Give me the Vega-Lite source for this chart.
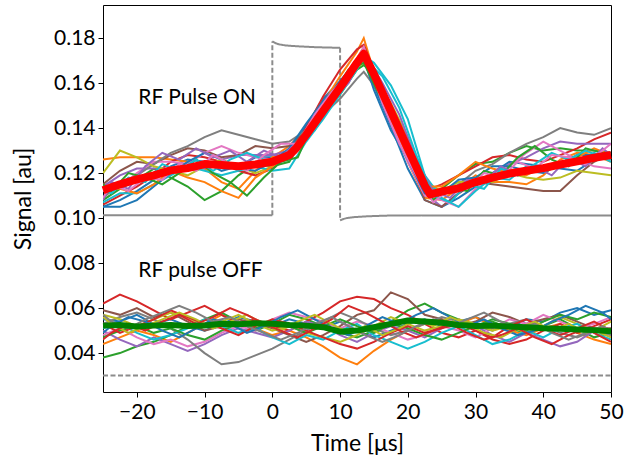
{
"$schema":"https://vega.github.io/schema/vega-lite/v6.json",
"width":508,"height":387,
"autosize":{"type":"none"},
"padding":{"left":103,"top":5,"right":21,"bottom":68},
"background":"white",
"config":{"view":{"stroke":"#000","strokeWidth":1},"font":"Lato",
"axis":{"grid":false,"domain":false,"tickColor":"#000","tickSize":5,"labelColor":"#000","labelFontSize":21,"titleFontSize":23,"titleFontWeight":"normal","titleColor":"#000","labelFont":"Lato","titleFont":"Lato"}},
"datasets":{
"pulse":[
{"seg":"b1","style":"solid","t":-25,"v":0.1013},{"seg":"b1","style":"solid","t":0,"v":0.1013},
{"seg":"up","style":"dashed","t":0,"v":0.1013},{"seg":"up","style":"dashed","t":0,"v":0.1785},
{"seg":"top","style":"solid","t":0,"v":0.1785},{"seg":"top","style":"solid","t":0.5,"v":0.1777},{"seg":"top","style":"solid","t":1,"v":0.1772},{"seg":"top","style":"solid","t":2,"v":0.1767},{"seg":"top","style":"solid","t":4,"v":0.1763},{"seg":"top","style":"solid","t":6,"v":0.176},{"seg":"top","style":"solid","t":8,"v":0.1758},{"seg":"top","style":"solid","t":10,"v":0.1757},
{"seg":"down","style":"dashed","t":10,"v":0.1757},{"seg":"down","style":"dashed","t":10,"v":0.099},
{"seg":"b2","style":"solid","t":10,"v":0.099},{"seg":"b2","style":"solid","t":10.5,"v":0.0996},{"seg":"b2","style":"solid","t":11,"v":0.1},{"seg":"b2","style":"solid","t":12,"v":0.1004},{"seg":"b2","style":"solid","t":14,"v":0.1008},{"seg":"b2","style":"solid","t":17,"v":0.1011},{"seg":"b2","style":"solid","t":22,"v":0.1012},{"seg":"b2","style":"solid","t":50,"v":0.1012},
{"seg":"off","style":"dashed","t":-25,"v":0.03},{"seg":"off","style":"dashed","t":50,"v":0.03}
],
"onmean":[
{"t":-25,"v":0.1124},{"t":-22.5,"v":0.115},{"t":-20,"v":0.1172},{"t":-17.5,"v":0.119},{"t":-15,"v":0.1212},{"t":-12.5,"v":0.1222},{"t":-10,"v":0.124},{"t":-7.5,"v":0.1236},{"t":-5,"v":0.123},{"t":-2.5,"v":0.1238},{"t":0,"v":0.125},{"t":2.5,"v":0.128},{"t":3.5,"v":0.131},{"t":5,"v":0.137},{"t":7.5,"v":0.1475},{"t":10,"v":0.158},{"t":12.5,"v":0.169},{"t":13.5,"v":0.173},{"t":15,"v":0.164},{"t":17.5,"v":0.1475},{"t":20,"v":0.131},{"t":22.5,"v":0.1145},{"t":23.3,"v":0.1105},{"t":25,"v":0.1118},{"t":27.5,"v":0.1132},{"t":30,"v":0.116},{"t":32.5,"v":0.118},{"t":35,"v":0.1198},{"t":37.5,"v":0.121},{"t":40,"v":0.1222},{"t":42.5,"v":0.1238},{"t":45,"v":0.1252},{"t":47.5,"v":0.1268},{"t":50,"v":0.128}
],
"offmean":[
{"t":-25,"v":0.0522},{"t":-22.5,"v":0.0525},{"t":-20,"v":0.0518},{"t":-17.5,"v":0.0522},{"t":-15,"v":0.0525},{"t":-12.5,"v":0.052},{"t":-10,"v":0.0523},{"t":-7.5,"v":0.053},{"t":-5,"v":0.0528},{"t":-2.5,"v":0.0533},{"t":0,"v":0.053},{"t":2.5,"v":0.0525},{"t":5,"v":0.0522},{"t":7.5,"v":0.0515},{"t":10,"v":0.0495},{"t":12.5,"v":0.05},{"t":15,"v":0.0515},{"t":17.5,"v":0.053},{"t":20,"v":0.0545},{"t":22.5,"v":0.054},{"t":25,"v":0.0535},{"t":27.5,"v":0.0525},{"t":30,"v":0.052},{"t":32.5,"v":0.0522},{"t":35,"v":0.0518},{"t":37.5,"v":0.0515},{"t":40,"v":0.051},{"t":42.5,"v":0.0508},{"t":45,"v":0.0505},{"t":47.5,"v":0.0502},{"t":50,"v":0.0497}
],
"labels":[{"t":-19.8,"v":0.1535,"label":"RF Pulse ON"},{"t":-19.8,"v":0.0765,"label":"RF pulse OFF"}],
"traces":[
{"s":"n1","t":-25,"v":0.105},{"s":"n1","t":-22.5,"v":0.108},{"s":"n1","t":-20,"v":0.112},{"s":"n1","t":-17.5,"v":0.117},{"s":"n1","t":-15,"v":0.123},{"s":"n1","t":-12.5,"v":0.126},{"s":"n1","t":-10,"v":0.125},{"s":"n1","t":-7.5,"v":0.121},{"s":"n1","t":-5,"v":0.123},{"s":"n1","t":-2.5,"v":0.127},{"s":"n1","t":0,"v":0.127},{"s":"n1","t":2.5,"v":0.129},{"s":"n1","t":5,"v":0.141},{"s":"n1","t":7.5,"v":0.153},{"s":"n1","t":10,"v":0.161},{"s":"n1","t":12.5,"v":0.17},{"s":"n1","t":13.5,"v":0.173},{"s":"n1","t":15,"v":0.159},{"s":"n1","t":17.5,"v":0.141},{"s":"n1","t":20,"v":0.122},{"s":"n1","t":22.5,"v":0.108},{"s":"n1","t":25,"v":0.105},{"s":"n1","t":27.5,"v":0.109},{"s":"n1","t":30,"v":0.114},{"s":"n1","t":32.5,"v":0.12},{"s":"n1","t":35,"v":0.125},{"s":"n1","t":37.5,"v":0.124},{"s":"n1","t":40,"v":0.123},{"s":"n1","t":42.5,"v":0.122},{"s":"n1","t":45,"v":0.121},{"s":"n1","t":47.5,"v":0.126},{"s":"n1","t":50,"v":0.128},
{"s":"n2","t":-25,"v":0.126},{"s":"n2","t":-22.5,"v":0.127},{"s":"n2","t":-20,"v":0.127},{"s":"n2","t":-17.5,"v":0.127},{"s":"n2","t":-15,"v":0.126},{"s":"n2","t":-12.5,"v":0.125},{"s":"n2","t":-10,"v":0.122},{"s":"n2","t":-7.5,"v":0.116},{"s":"n2","t":-5,"v":0.113},{"s":"n2","t":-2.5,"v":0.121},{"s":"n2","t":0,"v":0.127},{"s":"n2","t":2.5,"v":0.132},{"s":"n2","t":5,"v":0.139},{"s":"n2","t":7.5,"v":0.151},{"s":"n2","t":10,"v":0.163},{"s":"n2","t":12.5,"v":0.174},{"s":"n2","t":13.5,"v":0.18},{"s":"n2","t":15,"v":0.165},{"s":"n2","t":17.5,"v":0.145},{"s":"n2","t":20,"v":0.125},{"s":"n2","t":22.5,"v":0.109},{"s":"n2","t":25,"v":0.108},{"s":"n2","t":27.5,"v":0.113},{"s":"n2","t":30,"v":0.119},{"s":"n2","t":32.5,"v":0.116},{"s":"n2","t":35,"v":0.116},{"s":"n2","t":37.5,"v":0.115},{"s":"n2","t":40,"v":0.119},{"s":"n2","t":42.5,"v":0.126},{"s":"n2","t":45,"v":0.129},{"s":"n2","t":47.5,"v":0.128},{"s":"n2","t":50,"v":0.125},
{"s":"n3","t":-25,"v":0.108},{"s":"n3","t":-22.5,"v":0.113},{"s":"n3","t":-20,"v":0.117},{"s":"n3","t":-17.5,"v":0.122},{"s":"n3","t":-15,"v":0.118},{"s":"n3","t":-12.5,"v":0.114},{"s":"n3","t":-10,"v":0.108},{"s":"n3","t":-7.5,"v":0.112},{"s":"n3","t":-5,"v":0.119},{"s":"n3","t":-2.5,"v":0.124},{"s":"n3","t":0,"v":0.123},{"s":"n3","t":2.5,"v":0.125},{"s":"n3","t":5,"v":0.138},{"s":"n3","t":7.5,"v":0.146},{"s":"n3","t":10,"v":0.155},{"s":"n3","t":12.5,"v":0.166},{"s":"n3","t":13.5,"v":0.168},{"s":"n3","t":15,"v":0.164},{"s":"n3","t":17.5,"v":0.15},{"s":"n3","t":20,"v":0.128},{"s":"n3","t":22.5,"v":0.11},{"s":"n3","t":25,"v":0.113},{"s":"n3","t":27.5,"v":0.119},{"s":"n3","t":30,"v":0.124},{"s":"n3","t":32.5,"v":0.125},{"s":"n3","t":35,"v":0.129},{"s":"n3","t":37.5,"v":0.132},{"s":"n3","t":40,"v":0.13},{"s":"n3","t":42.5,"v":0.131},{"s":"n3","t":45,"v":0.13},{"s":"n3","t":47.5,"v":0.13},{"s":"n3","t":50,"v":0.129},
{"s":"n4","t":-25,"v":0.106},{"s":"n4","t":-22.5,"v":0.11},{"s":"n4","t":-20,"v":0.114},{"s":"n4","t":-17.5,"v":0.119},{"s":"n4","t":-15,"v":0.125},{"s":"n4","t":-12.5,"v":0.128},{"s":"n4","t":-10,"v":0.127},{"s":"n4","t":-7.5,"v":0.125},{"s":"n4","t":-5,"v":0.121},{"s":"n4","t":-2.5,"v":0.119},{"s":"n4","t":0,"v":0.122},{"s":"n4","t":2.5,"v":0.128},{"s":"n4","t":5,"v":0.14},{"s":"n4","t":7.5,"v":0.154},{"s":"n4","t":10,"v":0.166},{"s":"n4","t":12.5,"v":0.175},{"s":"n4","t":13.5,"v":0.177},{"s":"n4","t":15,"v":0.166},{"s":"n4","t":17.5,"v":0.148},{"s":"n4","t":20,"v":0.127},{"s":"n4","t":22.5,"v":0.112},{"s":"n4","t":25,"v":0.115},{"s":"n4","t":27.5,"v":0.119},{"s":"n4","t":30,"v":0.123},{"s":"n4","t":32.5,"v":0.127},{"s":"n4","t":35,"v":0.128},{"s":"n4","t":37.5,"v":0.126},{"s":"n4","t":40,"v":0.125},{"s":"n4","t":42.5,"v":0.128},{"s":"n4","t":45,"v":0.131},{"s":"n4","t":47.5,"v":0.135},{"s":"n4","t":50,"v":0.138},
{"s":"n5","t":-25,"v":0.114},{"s":"n5","t":-22.5,"v":0.119},{"s":"n5","t":-20,"v":0.122},{"s":"n5","t":-17.5,"v":0.122},{"s":"n5","t":-15,"v":0.122},{"s":"n5","t":-12.5,"v":0.122},{"s":"n5","t":-10,"v":0.122},{"s":"n5","t":-7.5,"v":0.126},{"s":"n5","t":-5,"v":0.128},{"s":"n5","t":-2.5,"v":0.128},{"s":"n5","t":0,"v":0.128},{"s":"n5","t":2.5,"v":0.13},{"s":"n5","t":5,"v":0.137},{"s":"n5","t":7.5,"v":0.149},{"s":"n5","t":10,"v":0.158},{"s":"n5","t":12.5,"v":0.167},{"s":"n5","t":13.5,"v":0.171},{"s":"n5","t":15,"v":0.163},{"s":"n5","t":17.5,"v":0.149},{"s":"n5","t":20,"v":0.134},{"s":"n5","t":22.5,"v":0.111},{"s":"n5","t":25,"v":0.105},{"s":"n5","t":27.5,"v":0.111},{"s":"n5","t":30,"v":0.116},{"s":"n5","t":32.5,"v":0.12},{"s":"n5","t":35,"v":0.124},{"s":"n5","t":37.5,"v":0.127},{"s":"n5","t":40,"v":0.131},{"s":"n5","t":42.5,"v":0.134},{"s":"n5","t":45,"v":0.133},{"s":"n5","t":47.5,"v":0.133},{"s":"n5","t":50,"v":0.133},
{"s":"n6","t":-25,"v":0.115},{"s":"n6","t":-22.5,"v":0.121},{"s":"n6","t":-20,"v":0.125},{"s":"n6","t":-17.5,"v":0.124},{"s":"n6","t":-15,"v":0.128},{"s":"n6","t":-12.5,"v":0.131},{"s":"n6","t":-10,"v":0.13},{"s":"n6","t":-7.5,"v":0.127},{"s":"n6","t":-5,"v":0.128},{"s":"n6","t":-2.5,"v":0.132},{"s":"n6","t":0,"v":0.131},{"s":"n6","t":2.5,"v":0.132},{"s":"n6","t":5,"v":0.139},{"s":"n6","t":7.5,"v":0.151},{"s":"n6","t":10,"v":0.16},{"s":"n6","t":12.5,"v":0.169},{"s":"n6","t":13.5,"v":0.172},{"s":"n6","t":15,"v":0.165},{"s":"n6","t":17.5,"v":0.147},{"s":"n6","t":20,"v":0.128},{"s":"n6","t":22.5,"v":0.108},{"s":"n6","t":25,"v":0.105},{"s":"n6","t":27.5,"v":0.111},{"s":"n6","t":30,"v":0.116},{"s":"n6","t":32.5,"v":0.115},{"s":"n6","t":35,"v":0.114},{"s":"n6","t":37.5,"v":0.113},{"s":"n6","t":40,"v":0.112},{"s":"n6","t":42.5,"v":0.112},{"s":"n6","t":45,"v":0.119},{"s":"n6","t":47.5,"v":0.125},{"s":"n6","t":50,"v":0.129},
{"s":"n7","t":-25,"v":0.112},{"s":"n7","t":-22.5,"v":0.114},{"s":"n7","t":-20,"v":0.12},{"s":"n7","t":-17.5,"v":0.125},{"s":"n7","t":-15,"v":0.125},{"s":"n7","t":-12.5,"v":0.124},{"s":"n7","t":-10,"v":0.129},{"s":"n7","t":-7.5,"v":0.132},{"s":"n7","t":-5,"v":0.129},{"s":"n7","t":-2.5,"v":0.127},{"s":"n7","t":0,"v":0.126},{"s":"n7","t":2.5,"v":0.126},{"s":"n7","t":5,"v":0.136},{"s":"n7","t":7.5,"v":0.148},{"s":"n7","t":10,"v":0.159},{"s":"n7","t":12.5,"v":0.168},{"s":"n7","t":13.5,"v":0.17},{"s":"n7","t":15,"v":0.161},{"s":"n7","t":17.5,"v":0.143},{"s":"n7","t":20,"v":0.125},{"s":"n7","t":22.5,"v":0.11},{"s":"n7","t":25,"v":0.108},{"s":"n7","t":27.5,"v":0.105},{"s":"n7","t":30,"v":0.113},{"s":"n7","t":32.5,"v":0.118},{"s":"n7","t":35,"v":0.123},{"s":"n7","t":37.5,"v":0.129},{"s":"n7","t":40,"v":0.134},{"s":"n7","t":42.5,"v":0.13},{"s":"n7","t":45,"v":0.126},{"s":"n7","t":47.5,"v":0.123},{"s":"n7","t":50,"v":0.122},
{"s":"n8","t":-25,"v":0.109},{"s":"n8","t":-22.5,"v":0.115},{"s":"n8","t":-20,"v":0.119},{"s":"n8","t":-17.5,"v":0.124},{"s":"n8","t":-15,"v":0.129},{"s":"n8","t":-12.5,"v":0.132},{"s":"n8","t":-10,"v":0.136},{"s":"n8","t":-7.5,"v":0.139},{"s":"n8","t":-5,"v":0.137},{"s":"n8","t":-2.5,"v":0.135},{"s":"n8","t":0,"v":0.133},{"s":"n8","t":2.5,"v":0.134},{"s":"n8","t":5,"v":0.139},{"s":"n8","t":7.5,"v":0.146},{"s":"n8","t":10,"v":0.153},{"s":"n8","t":12.5,"v":0.162},{"s":"n8","t":13.5,"v":0.165},{"s":"n8","t":15,"v":0.159},{"s":"n8","t":17.5,"v":0.147},{"s":"n8","t":20,"v":0.132},{"s":"n8","t":22.5,"v":0.115},{"s":"n8","t":25,"v":0.11},{"s":"n8","t":27.5,"v":0.115},{"s":"n8","t":30,"v":0.121},{"s":"n8","t":32.5,"v":0.124},{"s":"n8","t":35,"v":0.129},{"s":"n8","t":37.5,"v":0.133},{"s":"n8","t":40,"v":0.136},{"s":"n8","t":42.5,"v":0.14},{"s":"n8","t":45,"v":0.138},{"s":"n8","t":47.5,"v":0.137},{"s":"n8","t":50,"v":0.14},
{"s":"n9","t":-25,"v":0.12},{"s":"n9","t":-22.5,"v":0.13},{"s":"n9","t":-20,"v":0.127},{"s":"n9","t":-17.5,"v":0.123},{"s":"n9","t":-15,"v":0.121},{"s":"n9","t":-12.5,"v":0.119},{"s":"n9","t":-10,"v":0.123},{"s":"n9","t":-7.5,"v":0.126},{"s":"n9","t":-5,"v":0.123},{"s":"n9","t":-2.5,"v":0.12},{"s":"n9","t":0,"v":0.123},{"s":"n9","t":2.5,"v":0.129},{"s":"n9","t":5,"v":0.137},{"s":"n9","t":7.5,"v":0.147},{"s":"n9","t":10,"v":0.156},{"s":"n9","t":12.5,"v":0.167},{"s":"n9","t":13.5,"v":0.169},{"s":"n9","t":15,"v":0.164},{"s":"n9","t":17.5,"v":0.151},{"s":"n9","t":20,"v":0.136},{"s":"n9","t":22.5,"v":0.116},{"s":"n9","t":25,"v":0.112},{"s":"n9","t":27.5,"v":0.116},{"s":"n9","t":30,"v":0.116},{"s":"n9","t":32.5,"v":0.116},{"s":"n9","t":35,"v":0.12},{"s":"n9","t":37.5,"v":0.118},{"s":"n9","t":40,"v":0.117},{"s":"n9","t":42.5,"v":0.118},{"s":"n9","t":45,"v":0.121},{"s":"n9","t":47.5,"v":0.12},{"s":"n9","t":50,"v":0.119},
{"s":"n10","t":-25,"v":0.107},{"s":"n10","t":-22.5,"v":0.111},{"s":"n10","t":-20,"v":0.111},{"s":"n10","t":-17.5,"v":0.115},{"s":"n10","t":-15,"v":0.119},{"s":"n10","t":-12.5,"v":0.123},{"s":"n10","t":-10,"v":0.121},{"s":"n10","t":-7.5,"v":0.119},{"s":"n10","t":-5,"v":0.121},{"s":"n10","t":-2.5,"v":0.123},{"s":"n10","t":0,"v":0.121},{"s":"n10","t":2.5,"v":0.122},{"s":"n10","t":5,"v":0.134},{"s":"n10","t":7.5,"v":0.144},{"s":"n10","t":10,"v":0.155},{"s":"n10","t":12.5,"v":0.166},{"s":"n10","t":13.5,"v":0.172},{"s":"n10","t":15,"v":0.169},{"s":"n10","t":17.5,"v":0.159},{"s":"n10","t":20,"v":0.144},{"s":"n10","t":22.5,"v":0.119},{"s":"n10","t":25,"v":0.109},{"s":"n10","t":27.5,"v":0.105},{"s":"n10","t":30,"v":0.112},{"s":"n10","t":32.5,"v":0.118},{"s":"n10","t":35,"v":0.117},{"s":"n10","t":37.5,"v":0.123},{"s":"n10","t":40,"v":0.121},{"s":"n10","t":42.5,"v":0.125},{"s":"n10","t":45,"v":0.125},{"s":"n10","t":47.5,"v":0.129},{"s":"n10","t":50,"v":0.126},
{"s":"n11","t":-25,"v":0.105},{"s":"n11","t":-22.5,"v":0.105},{"s":"n11","t":-20,"v":0.108},{"s":"n11","t":-17.5,"v":0.114},{"s":"n11","t":-15,"v":0.12},{"s":"n11","t":-12.5,"v":0.125},{"s":"n11","t":-10,"v":0.129},{"s":"n11","t":-7.5,"v":0.126},{"s":"n11","t":-5,"v":0.122},{"s":"n11","t":-2.5,"v":0.121},{"s":"n11","t":0,"v":0.125},{"s":"n11","t":2.5,"v":0.131},{"s":"n11","t":5,"v":0.142},{"s":"n11","t":7.5,"v":0.152},{"s":"n11","t":10,"v":0.16},{"s":"n11","t":12.5,"v":0.168},{"s":"n11","t":13.5,"v":0.171},{"s":"n11","t":15,"v":0.157},{"s":"n11","t":17.5,"v":0.139},{"s":"n11","t":20,"v":0.126},{"s":"n11","t":22.5,"v":0.111},{"s":"n11","t":25,"v":0.111},{"s":"n11","t":27.5,"v":0.117},{"s":"n11","t":30,"v":0.118},{"s":"n11","t":32.5,"v":0.123},{"s":"n11","t":35,"v":0.123},{"s":"n11","t":37.5,"v":0.121},{"s":"n11","t":40,"v":0.12},{"s":"n11","t":42.5,"v":0.124},{"s":"n11","t":45,"v":0.128},{"s":"n11","t":47.5,"v":0.128},{"s":"n11","t":50,"v":0.127},
{"s":"n12","t":-25,"v":0.113},{"s":"n12","t":-22.5,"v":0.113},{"s":"n12","t":-20,"v":0.111},{"s":"n12","t":-17.5,"v":0.115},{"s":"n12","t":-15,"v":0.121},{"s":"n12","t":-12.5,"v":0.118},{"s":"n12","t":-10,"v":0.116},{"s":"n12","t":-7.5,"v":0.112},{"s":"n12","t":-5,"v":0.109},{"s":"n12","t":-2.5,"v":0.118},{"s":"n12","t":0,"v":0.123},{"s":"n12","t":2.5,"v":0.128},{"s":"n12","t":5,"v":0.136},{"s":"n12","t":7.5,"v":0.149},{"s":"n12","t":10,"v":0.16},{"s":"n12","t":12.5,"v":0.171},{"s":"n12","t":13.5,"v":0.176},{"s":"n12","t":15,"v":0.162},{"s":"n12","t":17.5,"v":0.144},{"s":"n12","t":20,"v":0.128},{"s":"n12","t":22.5,"v":0.114},{"s":"n12","t":25,"v":0.114},{"s":"n12","t":27.5,"v":0.119},{"s":"n12","t":30,"v":0.125},{"s":"n12","t":32.5,"v":0.122},{"s":"n12","t":35,"v":0.12},{"s":"n12","t":37.5,"v":0.119},{"s":"n12","t":40,"v":0.123},{"s":"n12","t":42.5,"v":0.123},{"s":"n12","t":45,"v":0.127},{"s":"n12","t":47.5,"v":0.131},{"s":"n12","t":50,"v":0.128},
{"s":"n13","t":-25,"v":0.115},{"s":"n13","t":-23.75,"v":0.112},{"s":"n13","t":-21.25,"v":0.12},{"s":"n13","t":-18.75,"v":0.118},{"s":"n13","t":-16.25,"v":0.115},{"s":"n13","t":-13.75,"v":0.12},{"s":"n13","t":-11.25,"v":0.126},{"s":"n13","t":-8.75,"v":0.12},{"s":"n13","t":-6.25,"v":0.116},{"s":"n13","t":-3.75,"v":0.11},{"s":"n13","t":-1.25,"v":0.118},{"s":"n13","t":1.25,"v":0.125},{"s":"n13","t":3.75,"v":0.127},{"s":"n13","t":6.25,"v":0.144},{"s":"n13","t":8.75,"v":0.154},{"s":"n13","t":11.25,"v":0.166},{"s":"n13","t":13.5,"v":0.169},{"s":"n13","t":16.25,"v":0.152},{"s":"n13","t":18.75,"v":0.137},{"s":"n13","t":21.25,"v":0.123},{"s":"n13","t":23.75,"v":0.108},{"s":"n13","t":26.25,"v":0.114},{"s":"n13","t":28.75,"v":0.112},{"s":"n13","t":31.25,"v":0.121},{"s":"n13","t":33.75,"v":0.119},{"s":"n13","t":36.25,"v":0.127},{"s":"n13","t":38.75,"v":0.132},{"s":"n13","t":41.25,"v":0.126},{"s":"n13","t":43.75,"v":0.123},{"s":"n13","t":46.25,"v":0.131},{"s":"n13","t":48.75,"v":0.129},{"s":"n13","t":50,"v":0.127},
{"s":"n14","t":-25,"v":0.108},{"s":"n14","t":-23.75,"v":0.116},{"s":"n14","t":-21.25,"v":0.113},{"s":"n14","t":-18.75,"v":0.123},{"s":"n14","t":-16.25,"v":0.129},{"s":"n14","t":-13.75,"v":0.126},{"s":"n14","t":-11.25,"v":0.131},{"s":"n14","t":-8.75,"v":0.127},{"s":"n14","t":-6.25,"v":0.13},{"s":"n14","t":-3.75,"v":0.125},{"s":"n14","t":-1.25,"v":0.13},{"s":"n14","t":1.25,"v":0.127},{"s":"n14","t":3.75,"v":0.134},{"s":"n14","t":6.25,"v":0.14},{"s":"n14","t":8.75,"v":0.153},{"s":"n14","t":11.25,"v":0.16},{"s":"n14","t":13.5,"v":0.174},{"s":"n14","t":16.25,"v":0.16},{"s":"n14","t":18.75,"v":0.146},{"s":"n14","t":21.25,"v":0.126},{"s":"n14","t":23.75,"v":0.112},{"s":"n14","t":26.25,"v":0.109},{"s":"n14","t":28.75,"v":0.117},{"s":"n14","t":31.25,"v":0.116},{"s":"n14","t":33.75,"v":0.123},{"s":"n14","t":36.25,"v":0.119},{"s":"n14","t":38.75,"v":0.123},{"s":"n14","t":41.25,"v":0.119},{"s":"n14","t":43.75,"v":0.127},{"s":"n14","t":46.25,"v":0.123},{"s":"n14","t":48.75,"v":0.131},{"s":"n14","t":50,"v":0.128},
{"s":"n15","t":-25,"v":0.113},{"s":"n15","t":-23.75,"v":0.111},{"s":"n15","t":-21.25,"v":0.118},{"s":"n15","t":-18.75,"v":0.116},{"s":"n15","t":-16.25,"v":0.124},{"s":"n15","t":-13.75,"v":0.121},{"s":"n15","t":-11.25,"v":0.126},{"s":"n15","t":-8.75,"v":0.121},{"s":"n15","t":-6.25,"v":0.126},{"s":"n15","t":-3.75,"v":0.129},{"s":"n15","t":-1.25,"v":0.126},{"s":"n15","t":1.25,"v":0.125},{"s":"n15","t":3.75,"v":0.132},{"s":"n15","t":6.25,"v":0.139},{"s":"n15","t":8.75,"v":0.152},{"s":"n15","t":11.25,"v":0.165},{"s":"n15","t":13.5,"v":0.171},{"s":"n15","t":16.25,"v":0.163},{"s":"n15","t":18.75,"v":0.149},{"s":"n15","t":21.25,"v":0.128},{"s":"n15","t":23.75,"v":0.11},{"s":"n15","t":26.25,"v":0.107},{"s":"n15","t":28.75,"v":0.115},{"s":"n15","t":31.25,"v":0.113},{"s":"n15","t":33.75,"v":0.122},{"s":"n15","t":36.25,"v":0.119},{"s":"n15","t":38.75,"v":0.124},{"s":"n15","t":41.25,"v":0.129},{"s":"n15","t":43.75,"v":0.126},{"s":"n15","t":46.25,"v":0.13},{"s":"n15","t":48.75,"v":0.127},{"s":"n15","t":50,"v":0.125},
{"s":"n16","t":-25,"v":0.109},{"s":"n16","t":-23.75,"v":0.115},{"s":"n16","t":-21.25,"v":0.112},{"s":"n16","t":-18.75,"v":0.118},{"s":"n16","t":-16.25,"v":0.117},{"s":"n16","t":-13.75,"v":0.124},{"s":"n16","t":-11.25,"v":0.121},{"s":"n16","t":-8.75,"v":0.128},{"s":"n16","t":-6.25,"v":0.124},{"s":"n16","t":-3.75,"v":0.121},{"s":"n16","t":-1.25,"v":0.128},{"s":"n16","t":1.25,"v":0.133},{"s":"n16","t":3.75,"v":0.133},{"s":"n16","t":6.25,"v":0.146},{"s":"n16","t":8.75,"v":0.156},{"s":"n16","t":11.25,"v":0.164},{"s":"n16","t":13.5,"v":0.176},{"s":"n16","t":16.25,"v":0.151},{"s":"n16","t":18.75,"v":0.133},{"s":"n16","t":21.25,"v":0.119},{"s":"n16","t":23.75,"v":0.107},{"s":"n16","t":26.25,"v":0.113},{"s":"n16","t":28.75,"v":0.113},{"s":"n16","t":31.25,"v":0.12},{"s":"n16","t":33.75,"v":0.118},{"s":"n16","t":36.25,"v":0.125},{"s":"n16","t":38.75,"v":0.122},{"s":"n16","t":41.25,"v":0.128},{"s":"n16","t":43.75,"v":0.127},{"s":"n16","t":46.25,"v":0.124},{"s":"n16","t":48.75,"v":0.13},{"s":"n16","t":50,"v":0.133},
{"s":"f1","t":-25,"v":0.055},{"s":"f1","t":-22.5,"v":0.054},{"s":"f1","t":-20,"v":0.057},{"s":"f1","t":-17.5,"v":0.053},{"s":"f1","t":-15,"v":0.055},{"s":"f1","t":-12.5,"v":0.052},{"s":"f1","t":-10,"v":0.05},{"s":"f1","t":-7.5,"v":0.053},{"s":"f1","t":-5,"v":0.056},{"s":"f1","t":-2.5,"v":0.054},{"s":"f1","t":0,"v":0.052},{"s":"f1","t":2.5,"v":0.055},{"s":"f1","t":5,"v":0.053},{"s":"f1","t":7.5,"v":0.051},{"s":"f1","t":10,"v":0.054},{"s":"f1","t":12.5,"v":0.05},{"s":"f1","t":15,"v":0.047},{"s":"f1","t":17.5,"v":0.05},{"s":"f1","t":20,"v":0.053},{"s":"f1","t":22.5,"v":0.055},{"s":"f1","t":25,"v":0.052},{"s":"f1","t":27.5,"v":0.054},{"s":"f1","t":30,"v":0.056},{"s":"f1","t":32.5,"v":0.053},{"s":"f1","t":35,"v":0.051},{"s":"f1","t":37.5,"v":0.055},{"s":"f1","t":40,"v":0.054},{"s":"f1","t":42.5,"v":0.058},{"s":"f1","t":45,"v":0.06},{"s":"f1","t":47.5,"v":0.057},{"s":"f1","t":50,"v":0.059},
{"s":"f2","t":-25,"v":0.044},{"s":"f2","t":-22.5,"v":0.047},{"s":"f2","t":-20,"v":0.05},{"s":"f2","t":-17.5,"v":0.048},{"s":"f2","t":-15,"v":0.045},{"s":"f2","t":-12.5,"v":0.049},{"s":"f2","t":-10,"v":0.053},{"s":"f2","t":-7.5,"v":0.057},{"s":"f2","t":-5,"v":0.054},{"s":"f2","t":-2.5,"v":0.051},{"s":"f2","t":0,"v":0.048},{"s":"f2","t":2.5,"v":0.05},{"s":"f2","t":5,"v":0.047},{"s":"f2","t":7.5,"v":0.043},{"s":"f2","t":10,"v":0.038},{"s":"f2","t":12.5,"v":0.035},{"s":"f2","t":15,"v":0.041},{"s":"f2","t":17.5,"v":0.046},{"s":"f2","t":20,"v":0.05},{"s":"f2","t":22.5,"v":0.053},{"s":"f2","t":25,"v":0.055},{"s":"f2","t":27.5,"v":0.053},{"s":"f2","t":30,"v":0.056},{"s":"f2","t":32.5,"v":0.052},{"s":"f2","t":35,"v":0.05},{"s":"f2","t":37.5,"v":0.048},{"s":"f2","t":40,"v":0.051},{"s":"f2","t":42.5,"v":0.053},{"s":"f2","t":45,"v":0.049},{"s":"f2","t":47.5,"v":0.046},{"s":"f2","t":50,"v":0.044},
{"s":"f3","t":-25,"v":0.038},{"s":"f3","t":-22.5,"v":0.04},{"s":"f3","t":-20,"v":0.043},{"s":"f3","t":-17.5,"v":0.045},{"s":"f3","t":-15,"v":0.048},{"s":"f3","t":-12.5,"v":0.052},{"s":"f3","t":-10,"v":0.055},{"s":"f3","t":-7.5,"v":0.058},{"s":"f3","t":-5,"v":0.054},{"s":"f3","t":-2.5,"v":0.05},{"s":"f3","t":0,"v":0.053},{"s":"f3","t":2.5,"v":0.057},{"s":"f3","t":5,"v":0.055},{"s":"f3","t":7.5,"v":0.052},{"s":"f3","t":10,"v":0.049},{"s":"f3","t":12.5,"v":0.047},{"s":"f3","t":15,"v":0.05},{"s":"f3","t":17.5,"v":0.054},{"s":"f3","t":20,"v":0.059},{"s":"f3","t":22.5,"v":0.062},{"s":"f3","t":25,"v":0.058},{"s":"f3","t":27.5,"v":0.055},{"s":"f3","t":30,"v":0.052},{"s":"f3","t":32.5,"v":0.054},{"s":"f3","t":35,"v":0.051},{"s":"f3","t":37.5,"v":0.049},{"s":"f3","t":40,"v":0.052},{"s":"f3","t":42.5,"v":0.055},{"s":"f3","t":45,"v":0.051},{"s":"f3","t":47.5,"v":0.047},{"s":"f3","t":50,"v":0.049},
{"s":"f4","t":-25,"v":0.062},{"s":"f4","t":-22.5,"v":0.066},{"s":"f4","t":-20,"v":0.063},{"s":"f4","t":-17.5,"v":0.059},{"s":"f4","t":-15,"v":0.055},{"s":"f4","t":-12.5,"v":0.058},{"s":"f4","t":-10,"v":0.061},{"s":"f4","t":-7.5,"v":0.057},{"s":"f4","t":-5,"v":0.053},{"s":"f4","t":-2.5,"v":0.055},{"s":"f4","t":0,"v":0.052},{"s":"f4","t":2.5,"v":0.05},{"s":"f4","t":5,"v":0.054},{"s":"f4","t":7.5,"v":0.058},{"s":"f4","t":10,"v":0.063},{"s":"f4","t":12.5,"v":0.065},{"s":"f4","t":15,"v":0.064},{"s":"f4","t":17.5,"v":0.06},{"s":"f4","t":20,"v":0.057},{"s":"f4","t":22.5,"v":0.053},{"s":"f4","t":25,"v":0.049},{"s":"f4","t":27.5,"v":0.047},{"s":"f4","t":30,"v":0.05},{"s":"f4","t":32.5,"v":0.046},{"s":"f4","t":35,"v":0.044},{"s":"f4","t":37.5,"v":0.046},{"s":"f4","t":40,"v":0.05},{"s":"f4","t":42.5,"v":0.053},{"s":"f4","t":45,"v":0.049},{"s":"f4","t":47.5,"v":0.052},{"s":"f4","t":50,"v":0.055},
{"s":"f5","t":-25,"v":0.05},{"s":"f5","t":-22.5,"v":0.046},{"s":"f5","t":-20,"v":0.043},{"s":"f5","t":-17.5,"v":0.047},{"s":"f5","t":-15,"v":0.044},{"s":"f5","t":-12.5,"v":0.041},{"s":"f5","t":-10,"v":0.044},{"s":"f5","t":-7.5,"v":0.048},{"s":"f5","t":-5,"v":0.051},{"s":"f5","t":-2.5,"v":0.049},{"s":"f5","t":0,"v":0.047},{"s":"f5","t":2.5,"v":0.05},{"s":"f5","t":5,"v":0.054},{"s":"f5","t":7.5,"v":0.052},{"s":"f5","t":10,"v":0.048},{"s":"f5","t":12.5,"v":0.045},{"s":"f5","t":15,"v":0.049},{"s":"f5","t":17.5,"v":0.052},{"s":"f5","t":20,"v":0.05},{"s":"f5","t":22.5,"v":0.047},{"s":"f5","t":25,"v":0.051},{"s":"f5","t":27.5,"v":0.055},{"s":"f5","t":30,"v":0.052},{"s":"f5","t":32.5,"v":0.048},{"s":"f5","t":35,"v":0.045},{"s":"f5","t":37.5,"v":0.049},{"s":"f5","t":40,"v":0.046},{"s":"f5","t":42.5,"v":0.043},{"s":"f5","t":45,"v":0.045},{"s":"f5","t":47.5,"v":0.05},{"s":"f5","t":50,"v":0.048},
{"s":"f6","t":-25,"v":0.059},{"s":"f6","t":-22.5,"v":0.057},{"s":"f6","t":-20,"v":0.06},{"s":"f6","t":-17.5,"v":0.056},{"s":"f6","t":-15,"v":0.058},{"s":"f6","t":-12.5,"v":0.054},{"s":"f6","t":-10,"v":0.05},{"s":"f6","t":-7.5,"v":0.052},{"s":"f6","t":-5,"v":0.055},{"s":"f6","t":-2.5,"v":0.053},{"s":"f6","t":0,"v":0.051},{"s":"f6","t":2.5,"v":0.048},{"s":"f6","t":5,"v":0.045},{"s":"f6","t":7.5,"v":0.048},{"s":"f6","t":10,"v":0.052},{"s":"f6","t":12.5,"v":0.057},{"s":"f6","t":15,"v":0.059},{"s":"f6","t":17.5,"v":0.067},{"s":"f6","t":20,"v":0.064},{"s":"f6","t":22.5,"v":0.057},{"s":"f6","t":25,"v":0.055},{"s":"f6","t":27.5,"v":0.052},{"s":"f6","t":30,"v":0.054},{"s":"f6","t":32.5,"v":0.058},{"s":"f6","t":35,"v":0.056},{"s":"f6","t":37.5,"v":0.053},{"s":"f6","t":40,"v":0.055},{"s":"f6","t":42.5,"v":0.057},{"s":"f6","t":45,"v":0.054},{"s":"f6","t":47.5,"v":0.051},{"s":"f6","t":50,"v":0.051},
{"s":"f7","t":-25,"v":0.048},{"s":"f7","t":-22.5,"v":0.051},{"s":"f7","t":-20,"v":0.047},{"s":"f7","t":-17.5,"v":0.044},{"s":"f7","t":-15,"v":0.046},{"s":"f7","t":-12.5,"v":0.043},{"s":"f7","t":-10,"v":0.045},{"s":"f7","t":-7.5,"v":0.049},{"s":"f7","t":-5,"v":0.052},{"s":"f7","t":-2.5,"v":0.05},{"s":"f7","t":0,"v":0.055},{"s":"f7","t":2.5,"v":0.058},{"s":"f7","t":5,"v":0.056},{"s":"f7","t":7.5,"v":0.054},{"s":"f7","t":10,"v":0.051},{"s":"f7","t":12.5,"v":0.054},{"s":"f7","t":15,"v":0.052},{"s":"f7","t":17.5,"v":0.049},{"s":"f7","t":20,"v":0.046},{"s":"f7","t":22.5,"v":0.048},{"s":"f7","t":25,"v":0.052},{"s":"f7","t":27.5,"v":0.05},{"s":"f7","t":30,"v":0.047},{"s":"f7","t":32.5,"v":0.051},{"s":"f7","t":35,"v":0.055},{"s":"f7","t":37.5,"v":0.053},{"s":"f7","t":40,"v":0.057},{"s":"f7","t":42.5,"v":0.054},{"s":"f7","t":45,"v":0.051},{"s":"f7","t":47.5,"v":0.053},{"s":"f7","t":50,"v":0.056},
{"s":"f8","t":-25,"v":0.053},{"s":"f8","t":-22.5,"v":0.056},{"s":"f8","t":-20,"v":0.058},{"s":"f8","t":-17.5,"v":0.055},{"s":"f8","t":-15,"v":0.051},{"s":"f8","t":-12.5,"v":0.046},{"s":"f8","t":-10,"v":0.04},{"s":"f8","t":-7.5,"v":0.035},{"s":"f8","t":-5,"v":0.036},{"s":"f8","t":-2.5,"v":0.039},{"s":"f8","t":0,"v":0.042},{"s":"f8","t":2.5,"v":0.046},{"s":"f8","t":5,"v":0.05},{"s":"f8","t":7.5,"v":0.054},{"s":"f8","t":10,"v":0.058},{"s":"f8","t":12.5,"v":0.055},{"s":"f8","t":15,"v":0.051},{"s":"f8","t":17.5,"v":0.048},{"s":"f8","t":20,"v":0.05},{"s":"f8","t":22.5,"v":0.053},{"s":"f8","t":25,"v":0.056},{"s":"f8","t":27.5,"v":0.054},{"s":"f8","t":30,"v":0.052},{"s":"f8","t":32.5,"v":0.05},{"s":"f8","t":35,"v":0.053},{"s":"f8","t":37.5,"v":0.055},{"s":"f8","t":40,"v":0.052},{"s":"f8","t":42.5,"v":0.049},{"s":"f8","t":45,"v":0.047},{"s":"f8","t":47.5,"v":0.05},{"s":"f8","t":50,"v":0.048},
{"s":"f9","t":-25,"v":0.057},{"s":"f9","t":-22.5,"v":0.055},{"s":"f9","t":-20,"v":0.052},{"s":"f9","t":-17.5,"v":0.055},{"s":"f9","t":-15,"v":0.058},{"s":"f9","t":-12.5,"v":0.056},{"s":"f9","t":-10,"v":0.052},{"s":"f9","t":-7.5,"v":0.054},{"s":"f9","t":-5,"v":0.057},{"s":"f9","t":-2.5,"v":0.053},{"s":"f9","t":0,"v":0.05},{"s":"f9","t":2.5,"v":0.052},{"s":"f9","t":5,"v":0.049},{"s":"f9","t":7.5,"v":0.047},{"s":"f9","t":10,"v":0.045},{"s":"f9","t":12.5,"v":0.048},{"s":"f9","t":15,"v":0.052},{"s":"f9","t":17.5,"v":0.056},{"s":"f9","t":20,"v":0.053},{"s":"f9","t":22.5,"v":0.05},{"s":"f9","t":25,"v":0.052},{"s":"f9","t":27.5,"v":0.055},{"s":"f9","t":30,"v":0.053},{"s":"f9","t":32.5,"v":0.05},{"s":"f9","t":35,"v":0.052},{"s":"f9","t":37.5,"v":0.049},{"s":"f9","t":40,"v":0.052},{"s":"f9","t":42.5,"v":0.056},{"s":"f9","t":45,"v":0.053},{"s":"f9","t":47.5,"v":0.05},{"s":"f9","t":50,"v":0.047},
{"s":"f10","t":-25,"v":0.051},{"s":"f10","t":-22.5,"v":0.053},{"s":"f10","t":-20,"v":0.049},{"s":"f10","t":-17.5,"v":0.046},{"s":"f10","t":-15,"v":0.048},{"s":"f10","t":-12.5,"v":0.051},{"s":"f10","t":-10,"v":0.055},{"s":"f10","t":-7.5,"v":0.052},{"s":"f10","t":-5,"v":0.049},{"s":"f10","t":-2.5,"v":0.051},{"s":"f10","t":0,"v":0.047},{"s":"f10","t":2.5,"v":0.044},{"s":"f10","t":5,"v":0.048},{"s":"f10","t":7.5,"v":0.046},{"s":"f10","t":10,"v":0.05},{"s":"f10","t":12.5,"v":0.053},{"s":"f10","t":15,"v":0.048},{"s":"f10","t":17.5,"v":0.045},{"s":"f10","t":20,"v":0.042},{"s":"f10","t":22.5,"v":0.045},{"s":"f10","t":25,"v":0.049},{"s":"f10","t":27.5,"v":0.052},{"s":"f10","t":30,"v":0.048},{"s":"f10","t":32.5,"v":0.044},{"s":"f10","t":35,"v":0.046},{"s":"f10","t":37.5,"v":0.05},{"s":"f10","t":40,"v":0.047},{"s":"f10","t":42.5,"v":0.051},{"s":"f10","t":45,"v":0.053},{"s":"f10","t":47.5,"v":0.049},{"s":"f10","t":50,"v":0.046},
{"s":"f11","t":-25,"v":0.047},{"s":"f11","t":-22.5,"v":0.05},{"s":"f11","t":-20,"v":0.052},{"s":"f11","t":-17.5,"v":0.049},{"s":"f11","t":-15,"v":0.051},{"s":"f11","t":-12.5,"v":0.048},{"s":"f11","t":-10,"v":0.046},{"s":"f11","t":-7.5,"v":0.05},{"s":"f11","t":-5,"v":0.053},{"s":"f11","t":-2.5,"v":0.051},{"s":"f11","t":0,"v":0.054},{"s":"f11","t":2.5,"v":0.052},{"s":"f11","t":5,"v":0.049},{"s":"f11","t":7.5,"v":0.052},{"s":"f11","t":10,"v":0.055},{"s":"f11","t":12.5,"v":0.052},{"s":"f11","t":15,"v":0.049},{"s":"f11","t":17.5,"v":0.053},{"s":"f11","t":20,"v":0.051},{"s":"f11","t":22.5,"v":0.048},{"s":"f11","t":25,"v":0.046},{"s":"f11","t":27.5,"v":0.049},{"s":"f11","t":30,"v":0.052},{"s":"f11","t":32.5,"v":0.055},{"s":"f11","t":35,"v":0.053},{"s":"f11","t":37.5,"v":0.05},{"s":"f11","t":40,"v":0.054},{"s":"f11","t":42.5,"v":0.057},{"s":"f11","t":45,"v":0.055},{"s":"f11","t":47.5,"v":0.058},{"s":"f11","t":50,"v":0.056},
{"s":"f12","t":-25,"v":0.053},{"s":"f12","t":-22.5,"v":0.049},{"s":"f12","t":-20,"v":0.052},{"s":"f12","t":-17.5,"v":0.055},{"s":"f12","t":-15,"v":0.059},{"s":"f12","t":-12.5,"v":0.056},{"s":"f12","t":-10,"v":0.053},{"s":"f12","t":-7.5,"v":0.051},{"s":"f12","t":-5,"v":0.048},{"s":"f12","t":-2.5,"v":0.052},{"s":"f12","t":0,"v":0.055},{"s":"f12","t":2.5,"v":0.053},{"s":"f12","t":5,"v":0.05},{"s":"f12","t":7.5,"v":0.047},{"s":"f12","t":10,"v":0.044},{"s":"f12","t":12.5,"v":0.042},{"s":"f12","t":15,"v":0.045},{"s":"f12","t":17.5,"v":0.049},{"s":"f12","t":20,"v":0.052},{"s":"f12","t":22.5,"v":0.049},{"s":"f12","t":25,"v":0.051},{"s":"f12","t":27.5,"v":0.053},{"s":"f12","t":30,"v":0.05},{"s":"f12","t":32.5,"v":0.047},{"s":"f12","t":35,"v":0.052},{"s":"f12","t":37.5,"v":0.055},{"s":"f12","t":40,"v":0.051},{"s":"f12","t":42.5,"v":0.048},{"s":"f12","t":45,"v":0.051},{"s":"f12","t":47.5,"v":0.054},{"s":"f12","t":50,"v":0.05},
{"s":"f13","t":-25,"v":0.049},{"s":"f13","t":-23.75,"v":0.052},{"s":"f13","t":-21.25,"v":0.056},{"s":"f13","t":-18.75,"v":0.054},{"s":"f13","t":-16.25,"v":0.05},{"s":"f13","t":-13.75,"v":0.047},{"s":"f13","t":-11.25,"v":0.051},{"s":"f13","t":-8.75,"v":0.055},{"s":"f13","t":-6.25,"v":0.053},{"s":"f13","t":-3.75,"v":0.049},{"s":"f13","t":-1.25,"v":0.052},{"s":"f13","t":1.25,"v":0.056},{"s":"f13","t":3.75,"v":0.059},{"s":"f13","t":6.25,"v":0.055},{"s":"f13","t":8.75,"v":0.051},{"s":"f13","t":11.25,"v":0.048},{"s":"f13","t":13.75,"v":0.052},{"s":"f13","t":16.25,"v":0.056},{"s":"f13","t":18.75,"v":0.053},{"s":"f13","t":21.25,"v":0.057},{"s":"f13","t":23.75,"v":0.06},{"s":"f13","t":26.25,"v":0.056},{"s":"f13","t":28.75,"v":0.052},{"s":"f13","t":31.25,"v":0.055},{"s":"f13","t":33.75,"v":0.051},{"s":"f13","t":36.25,"v":0.048},{"s":"f13","t":38.75,"v":0.05},{"s":"f13","t":41.25,"v":0.054},{"s":"f13","t":43.75,"v":0.057},{"s":"f13","t":46.25,"v":0.061},{"s":"f13","t":48.75,"v":0.058},{"s":"f13","t":50,"v":0.055},
{"s":"f14","t":-25,"v":0.056},{"s":"f14","t":-23.75,"v":0.053},{"s":"f14","t":-21.25,"v":0.049},{"s":"f14","t":-18.75,"v":0.052},{"s":"f14","t":-16.25,"v":0.055},{"s":"f14","t":-13.75,"v":0.058},{"s":"f14","t":-11.25,"v":0.055},{"s":"f14","t":-8.75,"v":0.051},{"s":"f14","t":-6.25,"v":0.054},{"s":"f14","t":-3.75,"v":0.057},{"s":"f14","t":-1.25,"v":0.053},{"s":"f14","t":1.25,"v":0.05},{"s":"f14","t":3.75,"v":0.054},{"s":"f14","t":6.25,"v":0.057},{"s":"f14","t":8.75,"v":0.053},{"s":"f14","t":11.25,"v":0.049},{"s":"f14","t":13.75,"v":0.052},{"s":"f14","t":16.25,"v":0.048},{"s":"f14","t":18.75,"v":0.051},{"s":"f14","t":21.25,"v":0.055},{"s":"f14","t":23.75,"v":0.052},{"s":"f14","t":26.25,"v":0.056},{"s":"f14","t":28.75,"v":0.053},{"s":"f14","t":31.25,"v":0.049},{"s":"f14","t":33.75,"v":0.047},{"s":"f14","t":36.25,"v":0.051},{"s":"f14","t":38.75,"v":0.054},{"s":"f14","t":41.25,"v":0.05},{"s":"f14","t":43.75,"v":0.053},{"s":"f14","t":46.25,"v":0.049},{"s":"f14","t":48.75,"v":0.052},{"s":"f14","t":50,"v":0.054},
{"s":"f15","t":-25,"v":0.046},{"s":"f15","t":-23.75,"v":0.049},{"s":"f15","t":-21.25,"v":0.053},{"s":"f15","t":-18.75,"v":0.05},{"s":"f15","t":-16.25,"v":0.054},{"s":"f15","t":-13.75,"v":0.057},{"s":"f15","t":-11.25,"v":0.053},{"s":"f15","t":-8.75,"v":0.056},{"s":"f15","t":-6.25,"v":0.06},{"s":"f15","t":-3.75,"v":0.057},{"s":"f15","t":-1.25,"v":0.053},{"s":"f15","t":1.25,"v":0.05},{"s":"f15","t":3.75,"v":0.047},{"s":"f15","t":6.25,"v":0.051},{"s":"f15","t":8.75,"v":0.055},{"s":"f15","t":11.25,"v":0.061},{"s":"f15","t":13.75,"v":0.058},{"s":"f15","t":16.25,"v":0.054},{"s":"f15","t":18.75,"v":0.05},{"s":"f15","t":21.25,"v":0.047},{"s":"f15","t":23.75,"v":0.05},{"s":"f15","t":26.25,"v":0.053},{"s":"f15","t":28.75,"v":0.049},{"s":"f15","t":31.25,"v":0.046},{"s":"f15","t":33.75,"v":0.048},{"s":"f15","t":36.25,"v":0.051},{"s":"f15","t":38.75,"v":0.047},{"s":"f15","t":41.25,"v":0.044},{"s":"f15","t":43.75,"v":0.048},{"s":"f15","t":46.25,"v":0.051},{"s":"f15","t":48.75,"v":0.047},{"s":"f15","t":50,"v":0.045},
{"s":"f16","t":-25,"v":0.057},{"s":"f16","t":-23.75,"v":0.054},{"s":"f16","t":-21.25,"v":0.051},{"s":"f16","t":-18.75,"v":0.055},{"s":"f16","t":-16.25,"v":0.058},{"s":"f16","t":-13.75,"v":0.061},{"s":"f16","t":-11.25,"v":0.058},{"s":"f16","t":-8.75,"v":0.054},{"s":"f16","t":-6.25,"v":0.056},{"s":"f16","t":-3.75,"v":0.052},{"s":"f16","t":-1.25,"v":0.049},{"s":"f16","t":1.25,"v":0.046},{"s":"f16","t":3.75,"v":0.049},{"s":"f16","t":6.25,"v":0.053},{"s":"f16","t":8.75,"v":0.056},{"s":"f16","t":11.25,"v":0.052},{"s":"f16","t":13.75,"v":0.048},{"s":"f16","t":16.25,"v":0.045},{"s":"f16","t":18.75,"v":0.048},{"s":"f16","t":21.25,"v":0.052},{"s":"f16","t":23.75,"v":0.055},{"s":"f16","t":26.25,"v":0.052},{"s":"f16","t":28.75,"v":0.055},{"s":"f16","t":31.25,"v":0.058},{"s":"f16","t":33.75,"v":0.054},{"s":"f16","t":36.25,"v":0.051},{"s":"f16","t":38.75,"v":0.053},{"s":"f16","t":41.25,"v":0.049},{"s":"f16","t":43.75,"v":0.046},{"s":"f16","t":46.25,"v":0.049},{"s":"f16","t":48.75,"v":0.052},{"s":"f16","t":50,"v":0.05}
]
},
"encoding":{
"x":{"field":"t","type":"quantitative","scale":{"domain":[-25,50],"nice":false,"zero":false},"axis":{"values":[-20,-10,0,10,20,30,40,50],"title":"Time [μs]","titleX":254,"titleY":51,"titleBaseline":"middle","titleAlign":"center","labelPadding":4,"labelFlush":false}},
"y":{"field":"v","type":"quantitative","scale":{"domain":[0.0227,0.1947],"nice":false,"zero":false},"axis":{"values":[0.04,0.06,0.08,0.1,0.12,0.14,0.16,0.18],"format":".2f","title":"Signal [au]","titleX":-80,"titleY":193.5,"titleAngle":-90,"titleBaseline":"middle","titleAlign":"center","labelPadding":3}}
},
"layer":[
{"data":{"name":"pulse"},"mark":{"type":"line","color":"#8c8c8c","strokeWidth":2},"encoding":{"detail":{"field":"seg","type":"nominal"},"strokeDash":{"field":"style","type":"nominal","scale":{"domain":["solid","dashed"],"range":[[1,0],[5,2.5]]},"legend":null}}},
{"data":{"name":"traces"},"mark":{"type":"line","strokeWidth":2,"clip":true},"encoding":{"color":{"field":"s","type":"nominal","legend":null,"scale":{"domain":["n1","n2","n3","n4","n5","n6","n7","n8","n9","n10","n11","n12","n13","n14","n15","n16","f1","f2","f3","f4","f5","f6","f7","f8","f9","f10","f11","f12","f13","f14","f15","f16"],"range":["#1f77b4","#ff7f0e","#2ca02c","#d62728","#9467bd","#8c564b","#e377c2","#7f7f7f","#bcbd22","#17becf","#1f77b4","#ff7f0e","#2ca02c","#9467bd","#17becf","#e377c2","#1f77b4","#ff7f0e","#2ca02c","#d62728","#9467bd","#8c564b","#e377c2","#7f7f7f","#bcbd22","#17becf","#2ca02c","#d62728","#1f77b4","#bcbd22","#d62728","#7f7f7f"]}}}},
{"data":{"name":"onmean"},"mark":{"type":"line","color":"#ff0000","strokeWidth":8,"strokeJoin":"round"},"encoding":{}},
{"data":{"name":"offmean"},"mark":{"type":"line","color":"#008000","strokeWidth":6,"strokeJoin":"round"},"encoding":{}},
{"data":{"name":"labels"},"mark":{"type":"text","align":"left","baseline":"middle","fontSize":21,"color":"#000"},"encoding":{"text":{"field":"label","type":"nominal"}}}
]
}
